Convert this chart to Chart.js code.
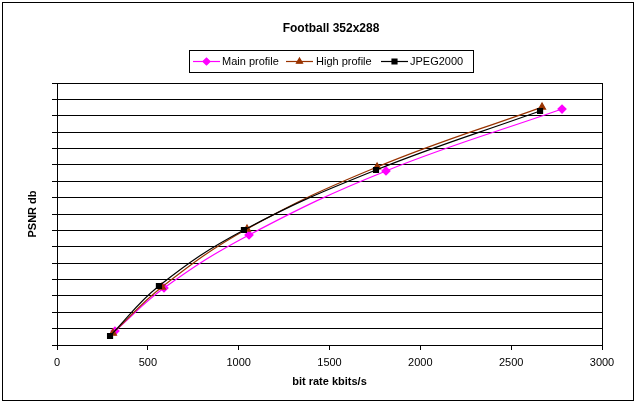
<!DOCTYPE html>
<html>
<head>
<meta charset="utf-8">
<script src="https://cdn.jsdelivr.net/npm/chart.js@4/dist/chart.umd.min.js"></script>
<style>
html,body{margin:0;padding:0;background:#fff;}
#wrap{position:relative;width:636px;height:403px;}
</style>
</head>
<body>
<div id="wrap"><canvas id="c" width="636" height="403"></canvas></div>
<script>
const chartTitle = 'Football 352x288';
const xAxisTitle = 'bit rate kbits/s';
const yAxisTitle = 'PSNR db';
const seriesNames = ['Main profile', 'High profile', 'JPEG2000'];

const mainX = [319, 589, 1057, 1811, 2780];
const mainY = [26.85, 29.48, 32.72, 36.63, 40.41];
const highX = [308, 578, 1046, 1762, 2670];
const highY = [26.73, 29.54, 33.08, 36.87, 40.53];
const jpegX = [292, 561, 1029, 1756, 2659];
const jpegY = [26.55, 29.60, 33.02, 36.69, 40.29];

const xTicks = [0, 500, 1000, 1500, 2000, 2500, 3000];
const yMin = 26, yMax = 42, yStep = 1;

const colors = ['#FF00FF', '#993300', '#000000'];
const styles = ['rectRot', 'triangle', 'rect'];

function pts(xs, ys){ return xs.map((x,i)=>({x:x, y:ys[i]})); }

const FONT = '"Liberation Sans", Arial, sans-serif';

const framePlugin = {
  id: 'frame',
  beforeDraw(chart){
    const ctx = chart.ctx;
    ctx.save();
    ctx.fillStyle = '#fff';
    ctx.fillRect(0,0,chart.width,chart.height);
    ctx.restore();
  },
  afterDraw(chart){
    const ctx = chart.ctx;
    const a = chart.chartArea;
    ctx.save();
    ctx.strokeStyle = '#000';
    ctx.lineWidth = 1;
    ctx.strokeRect(Math.round(a.left)+0.5, Math.round(a.top)+0.5, Math.round(a.right-a.left), Math.round(a.bottom-a.top));
    ctx.strokeRect(2.5, 2.5, 631, 398);
    ctx.fillStyle = '#000';
    ctx.font = 'bold 12px ' + FONT;
    ctx.textAlign = 'center';
    ctx.textBaseline = 'middle';
    ctx.fillText(chartTitle, 331, 29);
    const lx = 189, ly = 50, lw = 284, lh = 22;
    ctx.strokeRect(lx+0.5, ly+0.5, lw, lh);
    ctx.font = '11px ' + FONT;
    ctx.textAlign = 'left';
    const cy = 61.5;
    const lineStarts = [193, 286, 381];
    const textStarts = [222, 316, 410];
    for (let i=0;i<3;i++){
      ctx.strokeStyle = colors[i];
      ctx.fillStyle = colors[i];
      ctx.lineWidth = 1.2;
      ctx.beginPath();
      ctx.moveTo(lineStarts[i], cy);
      ctx.lineTo(lineStarts[i]+27, cy);
      ctx.stroke();
      Chart.helpers.drawPoint(ctx, {pointStyle: styles[i], radius: 3.5, borderWidth: 1}, lineStarts[i]+13.5, cy);
      ctx.fill();
      ctx.fillStyle = '#000';
      ctx.fillText(seriesNames[i], textStarts[i], cy);
    }
    ctx.restore();
  }
};

new Chart(document.getElementById('c'), {
  type: 'line',
  data: {
    datasets: [
      {label: seriesNames[0], data: pts(mainX, mainY), borderColor: colors[0], backgroundColor: colors[0], pointStyle: styles[0], pointRadius: 4, borderWidth: 1.2, tension: 0.4, order: 2},
      {label: seriesNames[1], data: pts(highX, highY), borderColor: colors[1], backgroundColor: colors[1], pointStyle: styles[1], pointRadius: 4, borderWidth: 1.2, tension: 0.4, order: 1},
      {label: seriesNames[2], data: pts(jpegX, jpegY), borderColor: colors[2], backgroundColor: colors[2], pointStyle: styles[2], pointRadius: 3.5, borderWidth: 1.2, tension: 0.4, order: 0}
    ]
  },
  options: {
    responsive: false,
    animation: false,
    devicePixelRatio: 1,
    layout: {padding: {top: 83, right: 34, bottom: 14, left: 0}},
    plugins: {legend: {display: false}, title: {display: false}, tooltip: {enabled: false}},
    scales: {
      x: {
        type: 'linear', min: 0, max: 3000,
        afterBuildTicks(scale){ scale.ticks = xTicks.map(v=>({value:v})); },
        afterFit(scale){ scale.height = 44; },
        border: {display: true, color: '#000', width: 1},
        grid: {drawOnChartArea: false, drawTicks: true, tickLength: 5, color: '#000'},
        ticks: {color: '#000', font: {family: FONT, size: 11}, padding: 6, maxRotation: 0, callback: (v)=>String(v)},
        title: {display: true, text: xAxisTitle, color: '#000', font: {family: FONT, size: 11, weight: 'bold'}, padding: {top: 0, bottom: 0}}
      },
      y: {
        type: 'linear', min: yMin, max: yMax,
        afterFit(scale){ scale.width = 57; },
        border: {display: true, color: '#000', width: 1},
        grid: {drawOnChartArea: true, drawTicks: true, tickLength: 5, color: '#000'},
        ticks: {display: false, stepSize: yStep},
        title: {display: true, text: yAxisTitle, color: '#000', font: {family: FONT, size: 11, weight: 'bold'}, padding: {top: 26, bottom: 0}}
      }
    }
  },
  plugins: [framePlugin]
});
</script>
</body>
</html>
